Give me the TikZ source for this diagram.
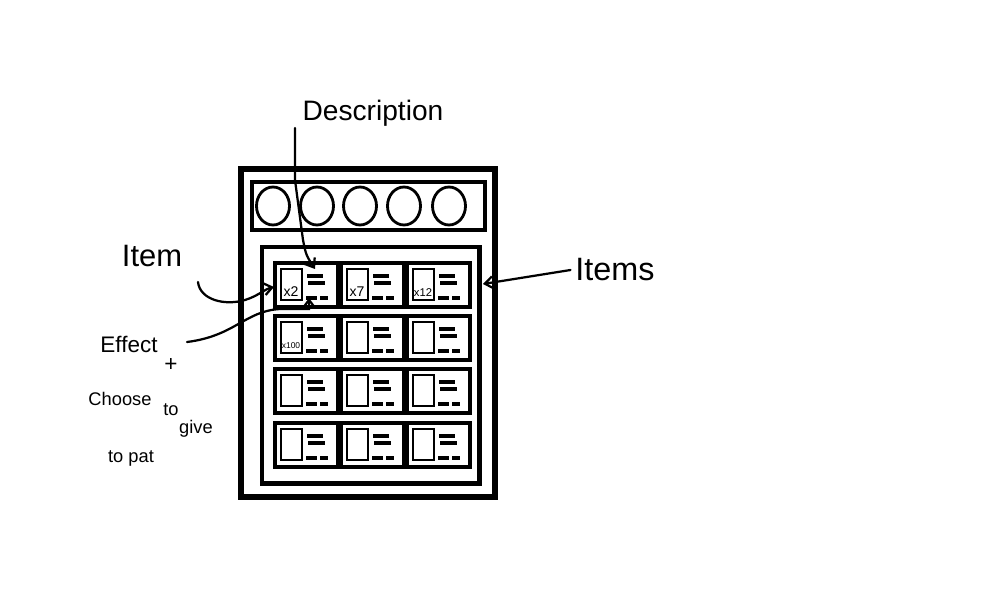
\documentclass[tikz,border=0pt]{standalone}
\usepackage{fontspec}
\setmainfont{Liberation Sans}
\usetikzlibrary{arrows.meta}

\begin{document}
\begin{tikzpicture}[x=0.025cm,y=-0.025cm]
	\tikzset{shell/.style = {draw, line width=4.2pt}}
	\tikzset{bar/.style = {draw, line width=2.8pt}}
	\tikzset{slot/.style = {draw, line width=2pt}}
	\tikzset{panel/.style = {draw, line width=3.5pt, anchor=north west, outer sep=0pt, minimum width=5.425cm, minimum height=5.9cm}}
	\tikzset{card/.style = {draw, line width=2.4pt, anchor=north west, outer sep=0pt, inner sep=0pt, minimum width=1.575cm, minimum height=1.1cm}}
	\tikzset{icon/.style = {draw, line width=0.9pt}}
	\tikzset{scribble/.style = {line width=2.6pt}}
	\tikzset{qty/.style = {inner sep=0pt}}
	\tikzset{note/.style = {font=\fontsize{13}{15}\selectfont}}
	\tikzset{edge/.style = {line width=1.6pt, line cap=round, -{Straight Barb[length=2mm,width=3mm]}}}

	\useasboundingbox (0,0) rectangle (1008,610);

	% case and top bar
	\draw[shell] (241,169) rectangle (495,497);
	\draw[bar] (252,182) rectangle (485,230);
	\foreach \cx in {273,317,360,404,449}
		\draw[slot] (\cx,206) ellipse (16.5 and 19);

	% item list
	\node[panel] (panel) at (262,247) {};

	\node[card] (c11) at (275,263) {};
	\node[card] (c12) at (341,263) {};
	\node[card] (c13) at (407,263) {};
	\node[card] (c21) at (275,316) {};
	\node[card] (c22) at (341,316) {};
	\node[card] (c23) at (407,316) {};
	\node[card] (c31) at (275,369) {};
	\node[card] (c32) at (341,369) {};
	\node[card] (c33) at (407,369) {};
	\node[card] (c41) at (275,423) {};
	\node[card] (c42) at (341,423) {};
	\node[card] (c43) at (407,423) {};

	\foreach \x/\y in {275/263,341/263,407/263,275/316,341/316,407/316,
	                   275/369,341/369,407/369,275/423,341/423,407/423} {
		\draw[icon] (\x+6,\y+6) rectangle (\x+27,\y+37);
		\draw[scribble] (\x+32,\y+13) -- (\x+48,\y+13);
		\draw[scribble] (\x+33,\y+20) -- (\x+50,\y+20);
		\draw[scribble] (\x+31,\y+35) -- (\x+42,\y+35);
		\draw[scribble] (\x+45,\y+35) -- (\x+53,\y+35);
	}

	\node[qty, font=\fontsize{10}{10}\selectfont] (q11) at (291,292) {x2};
	\node[qty, font=\fontsize{10}{10}\selectfont] (q12) at (357,292) {x7};
	\node[qty, font=\fontsize{8}{8}\selectfont] (q13) at (423,293) {x12};
	\node[qty, font=\fontsize{6}{6}\selectfont] (q21) at (291,346) {x100};

	% labels
	\node[font=\fontsize{20}{22}\selectfont] (desc) at (373,113) {Description};
	\node[font=\fontsize{22}{25}\selectfont] (item) at (152,256) {Item};
	\node[font=\fontsize{23}{26}\selectfont] (items) at (615,270) {Items};
	\node[font=\fontsize{16}{18}\selectfont] (effect) at (129,344) {Effect};
	\node[font=\fontsize{16}{18}\selectfont] (plus) at (171,365) {+};
	\node[note] (choose) at (120,399) {Choose};
	\node[note] (to) at (171,410) {to};
	\node[note] (give) at (196,429) {give};
	\node[note] (topat) at (131,458) {to pat};

	% arrows
	\coordinate (descstart) at (295,128);
	\coordinate (desctip) at (315,269);
	\coordinate (itemstart) at (198,282);
	\coordinate (itemtip) at (274,287);
	\coordinate (effstart) at (187,342);
	\coordinate (efftip) at (309,298);
	\coordinate (itemstip) at (483,284);

	\draw[edge] (descstart) -- (295,180) -- (303,240) .. controls (306,255) .. (desctip);
	\draw[edge] (itemstart) .. controls (200,300) and (225,306) .. (245,300)
		.. controls (258,296) and (265,289) .. (itemtip);
	\draw[edge] (effstart) .. controls (235,336) and (245,311) .. (280,309) -- (309,309) -- (efftip);
	\draw[edge] (items.west) -- (itemstip);
\end{tikzpicture}
\end{document}
